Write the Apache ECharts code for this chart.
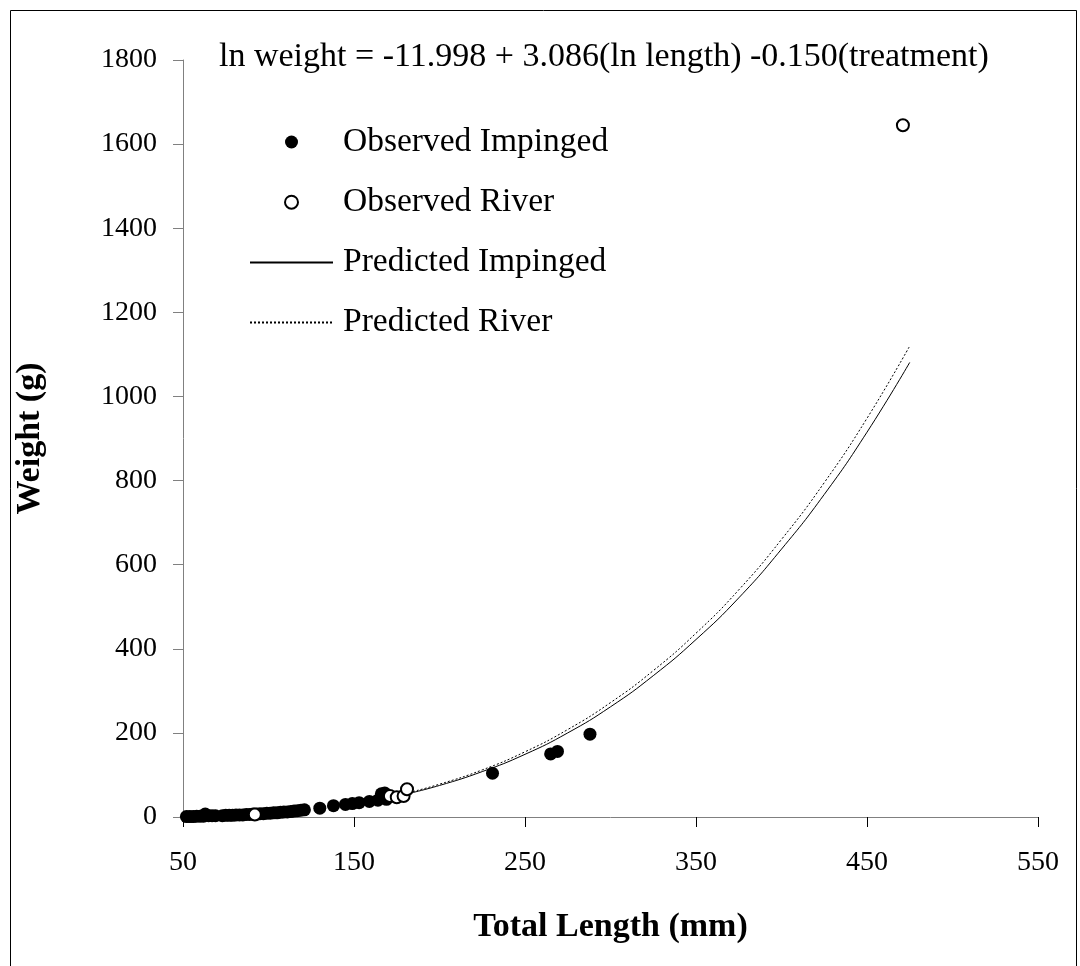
<!DOCTYPE html>
<html>
<head>
<meta charset="utf-8">
<script src="https://cdn.jsdelivr.net/npm/echarts@6/dist/echarts.min.js"></script>
<style>
html,body{margin:0;padding:0;background:#fff;}
#chart{width:1080px;height:966px;}
</style>
</head>
<body>
<div id="chart"></div>
<script>
var impingedLength = [52,54,56,58,60,62,63,65,67,69,73,75,77,79,81,83,85,87,89,91,93,95,97,99,101,103,105,107,109,111,113,115,117,119,121,130,138,145,149,153,159,164,166,168,169,231,265,269,288];
var impingedWeight = [1,1,1,2,2,2,7,3,3,3,3,4,4,4,5,5,5,6,6,7,7,8,8,9,9,10,10,11,12,12,13,14,15,16,17,21,27,30,32,34,37,40,55,57,42,104,150,156,197];
var riverLength = [92,171,175,179,181,471];
var riverWeight = [6,50,47,50,66,1645];
// Predicted curves
var predLength = [180,200,225,250,275,300,325,350,375,400,425,450,475];
var predImpinged = [54,75,108,149,200,262,336,422,521,637,767,915,1081];
var predRiver = [56,78,112,155,208,272,348,437,540,660,795,948,1120];
// Axis ticks
var xTicks = [50,150,250,350,450,550];
var yTicks = [0,200,400,600,800,1000,1200,1400,1600,1800];
var equationText = 'ln weight = -11.998 + 3.086(ln length) -0.150(treatment)';

function pairs(xs, ys){ return xs.map(function(x,i){ return [x, ys[i]]; }); }

var serif = '"Liberation Serif","Times New Roman",serif';
var chart = echarts.init(document.getElementById('chart'), null, {renderer:'canvas'});
chart.setOption({
  animation:false,
  backgroundColor:'#ffffff',
  title:{
    text: equationText,
    left: 219, top: 40, padding:0,
    textStyle:{fontFamily:serif, fontSize:34, fontWeight:'normal', color:'#000'}
  },
  legend:{
    orient:'vertical', left:249, top:124, padding:0,
    itemWidth:83, itemHeight:13, itemGap:24.2,
    textStyle:{fontFamily:serif, fontSize:33.5, color:'#000', lineHeight:36, padding:[0,0,0,5]},
    data:['Observed Impinged','Observed River','Predicted Impinged','Predicted River']
  },
  graphic:[{
    type:'rect', shape:{x:10.5, y:10.5, width:1066, height:1000},
    style:{fill:'none', stroke:'#000', lineWidth:1}, silent:true
  }],
  grid:{left:183, right:42, top:60, bottom:149, containLabel:false},
  xAxis:{
    type:'value', min:xTicks[0], max:xTicks[xTicks.length-1], interval:100,
    name:'Total Length (mm)', nameLocation:'middle', nameGap:93,
    nameTextStyle:{fontFamily:serif, fontSize:34, fontWeight:'bold', color:'#000'},
    axisLine:{show:true, lineStyle:{color:'#808080', width:1}},
    axisTick:{show:true, inside:false, length:10, lineStyle:{color:'#000', width:1}},
    axisLabel:{fontFamily:serif, fontSize:28, color:'#000', margin:32, formatter:function(v){return String(v);}},
    splitLine:{show:false}
  },
  yAxis:{
    type:'value', min:yTicks[0], max:yTicks[yTicks.length-1], interval:200,
    name:'Weight (g)', nameLocation:'middle', nameGap:136, nameRotate:90,
    nameTextStyle:{fontFamily:serif, fontSize:34, fontWeight:'bold', color:'#000'},
    axisLine:{show:true, lineStyle:{color:'#808080', width:1}},
    axisTick:{show:true, inside:false, length:10, lineStyle:{color:'#808080', width:1}},
    axisLabel:{fontFamily:serif, fontSize:28, color:'#000', margin:26, formatter:function(v){return String(v);}},
    splitLine:{show:false}
  },
  series:[
    {
      name:'Predicted Impinged', type:'line', smooth:true, symbol:'none', z:2,
      data: pairs(predLength, predImpinged),
      itemStyle:{color:'rgba(0,0,0,0)', borderWidth:0},
      lineStyle:{color:'#000', width:1, type:'solid'}
    },
    {
      name:'Predicted River', type:'line', smooth:true, symbol:'none', z:2,
      data: pairs(predLength, predRiver),
      itemStyle:{color:'rgba(0,0,0,0)', borderWidth:0},
      lineStyle:{color:'#000', width:1, type:[2,2]}
    },
    {
      name:'Observed Impinged', type:'scatter', symbol:'circle', symbolSize:13, z:3,
      data: pairs(impingedLength, impingedWeight),
      itemStyle:{color:'#000', borderWidth:0, opacity:1}
    },
    {
      name:'Observed River', type:'scatter', symbol:'circle', symbolSize:12, z:4,
      data: pairs(riverLength, riverWeight),
      itemStyle:{color:'#fff', borderColor:'#000', borderWidth:2, opacity:1}
    }
  ]
});
</script>
</body>
</html>
